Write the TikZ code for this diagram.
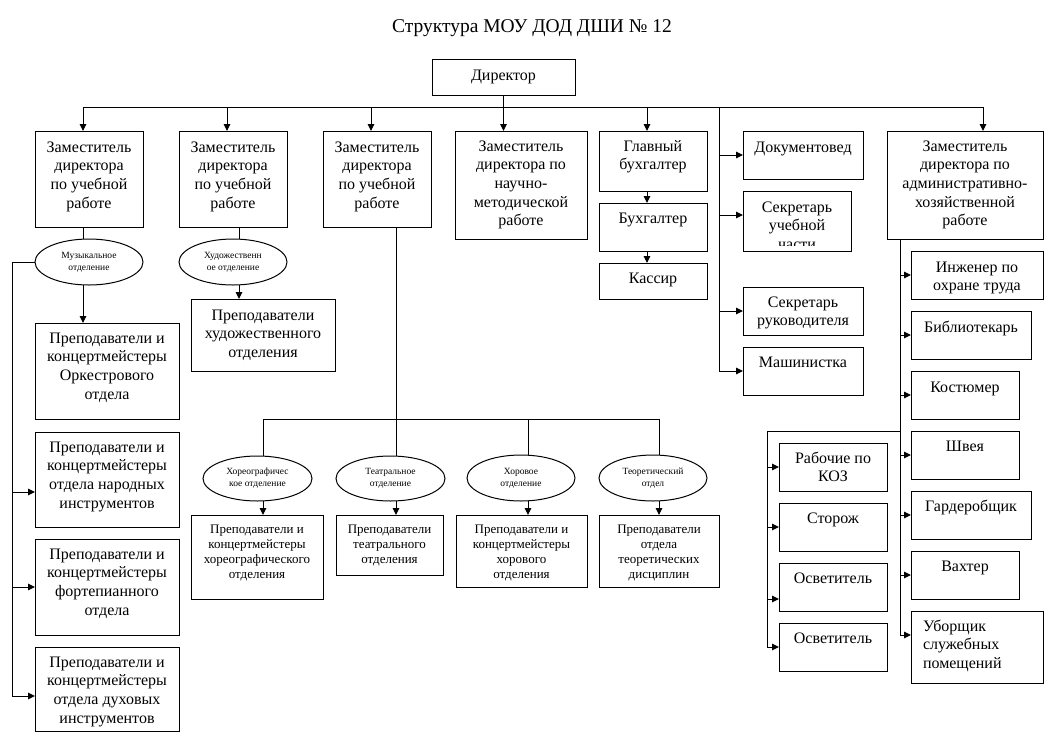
\documentclass[tikz,border=0pt]{standalone}
\usepackage{fontspec}
\setmainfont{Liberation Serif}
\usetikzlibrary{arrows.meta,shapes.geometric,calc}
\newcommand\fA{\fontsize{16}{18.7}\selectfont}
\newcommand\fB{\fontsize{13}{15}\selectfont}
\newcommand\fC{\fontsize{9.5}{12}\selectfont}
\newcommand\fT{\fontsize{19.5}{23}\selectfont}
\newcommand\boxtxt[4]{\parbox[c][#2][t]{#1}{\centering\rule{0pt}{#3}#4\par}}
\newcommand\boxtxtL[5]{\parbox[c][#2][t]{#1}{\raggedright\leftskip=#4\rule{0pt}{#3}#5\par}}
\begin{document}
\begin{tikzpicture}[x=1pt,y=-1pt,
 ln/.style={line width=1pt},
 arr/.style={line width=1pt, -{Triangle[length=7pt,width=6.5pt]}},
 box/.style={draw, line width=1pt, inner sep=0pt, outer sep=0pt, anchor=north west, font=\fA},
 sbox/.style={box, font=\fB},
 ell/.style={draw, line width=1pt, ellipse, inner sep=0pt, outer sep=0pt, align=center, font=\fC},
]
\path[use as bounding box, fill=white] (0,0) rectangle (1053,740);

\node[font=\fT, anchor=base] (title) at (532,32) {Структура МОУ ДОД ДШИ № 12};

% top level
\node[box] (dir) at (432,59) {\boxtxt{143pt}{36pt}{21pt}{Директор}};
\node[box] (d1) at (35,131) {\boxtxt{108pt}{96pt}{21pt}{Заместитель\\директора\\по учебной\\работе}};
\node[box] (d2) at (179,131) {\boxtxt{108pt}{96pt}{21pt}{Заместитель\\директора\\по учебной\\работе}};
\node[box] (d3) at (323,131) {\boxtxt{108pt}{96pt}{21pt}{Заместитель\\директора\\по учебной\\работе}};
\node[box] (d4) at (455,131) {\boxtxt{132pt}{108pt}{20pt}{Заместитель\\директора по\\научно-\\методической\\работе}};
\node[box] (gb) at (599,131) {\boxtxt{108pt}{60pt}{20pt}{Главный\\бухгалтер}};
\node[box] (bux) at (599,203) {\boxtxt{108pt}{48pt}{20pt}{Бухгалтер}};
\node[box] (kas) at (599,263) {\boxtxt{108pt}{36pt}{20pt}{Кассир}};
\node[box] (doc) at (743,131) {\boxtxt{120pt}{48pt}{21pt}{Документовед}};
\begin{scope}
\clip (740,188) rectangle (856,245.5);
\node[box, draw=none] (suc) at (743,191) {\boxtxt{108pt}{60pt}{21pt}{Секретарь\\учебной\\части}};
\end{scope}
\draw[ln] (suc.north west) rectangle (suc.south east);
\node[box] (sruk) at (743,287) {\boxtxt{120pt}{48pt}{20pt}{Секретарь\\руководителя}};
\node[box] (mash) at (743,347) {\boxtxt{120pt}{48pt}{20pt}{Машинистка}};
\node[box] (dah) at (887,131) {\boxtxt{156pt}{108pt}{20pt}{Заместитель\\директора по\\административно-\\хозяйственной\\работе}};

% right column
\node[box] (ing) at (911,251) {\boxtxt{132pt}{48pt}{21pt}{Инженер по\\охране труда}};
\node[box] (bib) at (911,311) {\boxtxt{120pt}{48pt}{21pt}{Библиотекарь}};
\node[box] (kost) at (911,371) {\boxtxt{108pt}{48pt}{21pt}{Костюмер}};
\node[box] (shv) at (911,431) {\boxtxt{108pt}{48pt}{20pt}{Швея}};
\node[box] (gard) at (911,491) {\boxtxt{120pt}{48pt}{20pt}{Гардеробщик}};
\node[box] (vaht) at (911,551) {\boxtxt{108pt}{48pt}{20pt}{Вахтер}};
\node[box] (ubor) at (911,611) {\boxtxtL{132pt}{72pt}{20pt}{12pt}{Уборщик\\служебных\\помещений}};
\node[box] (rab) at (779,443) {\boxtxt{108pt}{48pt}{20pt}{Рабочие по\\КОЗ}};
\node[box] (stor) at (779,503) {\boxtxt{108pt}{48pt}{20pt}{Сторож}};
\node[box] (osv1) at (779,563) {\boxtxt{108pt}{48pt}{20pt}{Осветитель}};
\node[box] (osv2) at (779,623) {\boxtxt{108pt}{48pt}{20pt}{Осветитель}};

% left columns
\node[ell, minimum width=108pt, minimum height=46pt] (e1) at (89,262) {Музыкальное\\отделение};
\node[ell, minimum width=108pt, minimum height=46pt] (e2) at (233,262) {Художественн\\ое отделение};
\node[box] (p1) at (35,323) {\boxtxt{144pt}{96pt}{20pt}{Преподаватели и\\концертмейстеры\\Оркестрового\\отдела}};
\node[box] (p2) at (35,432) {\boxtxt{144pt}{95pt}{20pt}{Преподаватели и\\концертмейстеры\\отдела народных\\инструментов}};
\node[box] (p3) at (35,539) {\boxtxt{144pt}{96pt}{20pt}{Преподаватели и\\концертмейстеры\\фортепианного\\отдела}};
\node[box] (p4) at (35,647) {\boxtxt{144pt}{84pt}{20pt}{Преподаватели и\\концертмейстеры\\отдела духовых\\инструментов}};
\node[box] (ph) at (191,299) {\boxtxt{144pt}{72pt}{21pt}{Преподаватели\\художественного\\отделения}};

% middle bottom
\node[ell, minimum width=109pt, minimum height=45pt] (e3) at (257.5,478.5) {Хореографичес\\кое отделение};
\node[ell, minimum width=109pt, minimum height=45pt] (e4) at (390.5,478.5) {Театральное\\отделение};
\node[ell, minimum width=108pt, minimum height=46pt] (e5) at (521,478) {Хоровое\\отделение};
\node[ell, minimum width=108pt, minimum height=46pt] (e6) at (653,478) {Теоретический\\отдел};
\node[sbox] (b1) at (191,515) {\boxtxt{132pt}{84pt}{18.5pt}{Преподаватели и\\концертмейстеры\\хореографического\\отделения}};
\node[sbox] (b2) at (336,515) {\boxtxt{107pt}{60pt}{18.5pt}{Преподаватели\\театрального\\отделения}};
\node[sbox] (b3) at (456,515) {\boxtxt{131pt}{72pt}{18.5pt}{Преподаватели и\\концертмейстеры\\хорового\\отделения}};
\node[sbox] (b4) at (599,515) {\boxtxt{120pt}{72pt}{18.5pt}{Преподаватели\\отдела\\теоретических\\дисциплин}};

% connectors: top
\coordinate (busL) at (83,107);
\coordinate (busR) at (983,107);
\coordinate (bu2) at (227,107);
\coordinate (bu3) at (371,107);
\coordinate (bu5) at (647,107);
\coordinate (vs) at (719,107);
\coordinate (ve) at (719,371);
\coordinate (s2) at (719,215);
\draw[arr] (dir.south) -- (dir.south |- d4.north);
\draw[ln] (busL) -- (busR);
\draw[arr] (busL) -- (busL |- d1.north);
\draw[arr] (bu2) -- (bu2 |- d2.north);
\draw[arr] (bu3) -- (bu3 |- d3.north);
\draw[arr] (bu5) -- (bu5 |- gb.north);
\draw[arr] (busR) -- (busR |- dah.north);
\draw[arr] (bu5 |- gb.south) -- (bu5 |- bux.north);
\draw[arr] (bu5 |- bux.south) -- (bu5 |- kas.north);
\draw[ln] (vs) -- (ve);
\draw[arr] (vs |- doc.west) -- (doc.west);
\draw[arr] (s2) -- (s2 -| suc.west);
\draw[arr] (vs |- sruk.west) -- (sruk.west);
\draw[arr] (ve) -- (ve -| mash.west);

% connectors: left
\coordinate (c1) at (83,227);
\coordinate (m1) at (12,262);
\coordinate (q2) at (12,492);
\coordinate (q3) at (12,587);
\coordinate (m2) at (12,696);
\draw[ln] (c1) -- (c1 |- e1.north);
\draw[arr] (c1 |- e1.south) -- (c1 |- p1.north);
\draw[ln] (e1.west) -- (m1) -- (m2);
\draw[arr] (q2) -- (q2 -| p2.west);
\draw[arr] (q3) -- (q3 -| p3.west);
\draw[arr] (m2) -- (m2 -| p4.west);
\coordinate (c2) at (239,227);
\draw[ln] (c2) -- (c2 |- e2.north);
\draw[arr] (c2 |- e2.south) -- (c2 |- ph.north);

% connectors: middle
\coordinate (c3) at (396,227);
\coordinate (h1) at (263,419);
\coordinate (h3) at (528,419);
\coordinate (h4) at (659,419);
\draw[ln] (c3) -- (c3 |- e4.north);
\draw[ln] (h1) -- (h4);
\draw[ln] (h1) -- (h1 |- e3.north);
\draw[ln] (h3) -- (h3 |- e5.north);
\draw[ln] (h4) -- (h4 |- e6.north);
\draw[arr] (h1 |- e3.south) -- (h1 |- b1.north);
\draw[arr] (c3 |- e4.south) -- (c3 |- b2.north);
\draw[arr] (h3 |- e5.south) -- (h3 |- b3.north);
\draw[arr] (h4 |- e6.south) -- (h4 |- b4.north);

% connectors: right
\coordinate (r0) at (900,239);
\coordinate (r1) at (900,635);
\draw[ln] (r0) -- (r1);
\draw[arr] (r0 |- ing.west) -- (ing.west);
\draw[arr] (r0 |- bib.west) -- (bib.west);
\draw[arr] (r0 |- kost.west) -- (kost.west);
\draw[arr] (r0 |- shv.west) -- (shv.west);
\draw[arr] (r0 |- gard.west) -- (gard.west);
\draw[arr] (r0 |- vaht.west) -- (vaht.west);
\draw[arr] (r1) -- (r1 -| ubor.west);
\coordinate (k0) at (900,431);
\coordinate (k1) at (767,431);
\coordinate (k2) at (767,647);
\coordinate (k3) at (767,599);
\draw[ln] (k0) -- (k1) -- (k2);
\draw[arr] (k1 |- rab.west) -- (rab.west);
\draw[arr] (k1 |- stor.west) -- (stor.west);
\draw[arr] (k3) -- (k3 -| osv1.west);
\draw[arr] (k2) -- (k2 -| osv2.west);
\end{tikzpicture}
\end{document}
